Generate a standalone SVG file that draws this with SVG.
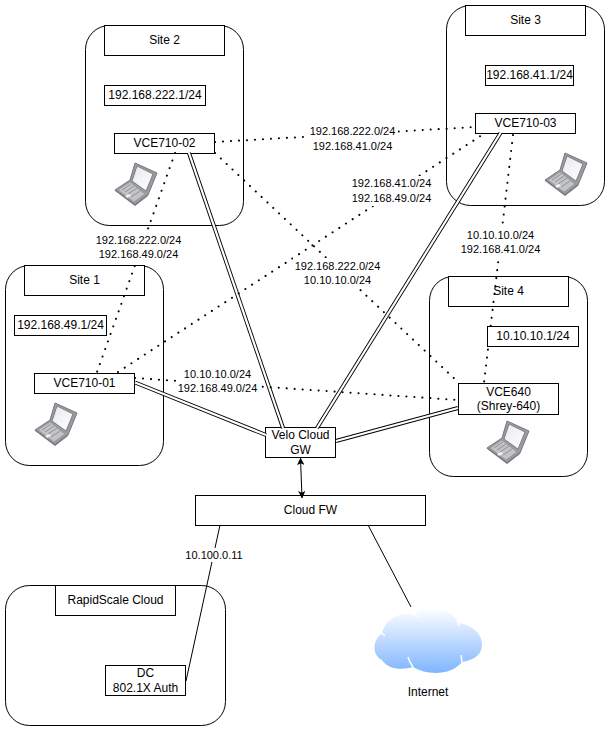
<svg xmlns="http://www.w3.org/2000/svg" width="610" height="731" viewBox="0 0 610 731">
<style>
text{font-family:"Liberation Sans",Arial,sans-serif;font-size:12px;fill:#000;text-anchor:middle}
.s{font-size:11px}
.b{fill:#fff;stroke:#000;stroke-width:1}
.o{fill:#fff;stroke:#000;stroke-width:1}
.d{fill:none;stroke:#000;stroke-width:2;stroke-dasharray:0.1 7.9;stroke-linecap:round}
.w1{fill:none;stroke:#000;stroke-width:4}
.w2{fill:none;stroke:#fff;stroke-width:2.2}
.l{fill:none;stroke:#000;stroke-width:1}
</style>
<defs>
<linearGradient id="cg" x1="0" y1="0" x2="0" y2="1"><stop offset="0" stop-color="#fff"/><stop offset="1" stop-color="#7fb5ff"/></linearGradient>
<linearGradient id="sc" x1="0" y1="0" x2="1" y2="1"><stop offset="0" stop-color="#e8e9ee"/><stop offset="1" stop-color="#fff"/></linearGradient>
<marker id="ah" viewBox="0 0 10 10" refX="9.500" refY="5" markerWidth="7.500" markerHeight="7.500" orient="auto-start-reverse" markerUnits="userSpaceOnUse"><path d="M0 0L10 5L0 10L2.500 5Z" fill="#000"/></marker>
<g id="lap">
<path d="M0 28L15 18L20 1L42 11L33 33L20 43Z" fill="#9a9ca1" stroke="#77787d" stroke-width="1"/>
<path d="M22 4L38 12L31 29L17 19Z" fill="url(#sc)" stroke="#6d6e73" stroke-width=".8"/>
<path d="M3 28L15 20L30 32L19 40Z" fill="#c2c4c8" stroke="#8a8b90" stroke-width=".6"/>
<path d="M7 28L16 22M10 30L19 24M13 32L22 26M16 35L25 29" stroke="#8f9095" stroke-width="1" fill="none"/>
<path d="M10 34L14 32L16 33.500L12 36Z" fill="#f2f2f2"/>
<path d="M0 28L20 43L33 33" fill="none" stroke="#7a7b80" stroke-width="1.500"/>
</g>
</defs>
<g id="site-containers">
<rect id="site2-box" class="o" x="85.500" y="25.500" width="158" height="200" rx="24"/>
<rect id="site3-box" class="o" x="446.500" y="5.500" width="158" height="200" rx="24"/>
<rect id="site1-box" class="o" x="5.500" y="265.500" width="158" height="200" rx="24"/>
<rect id="site4-box" class="o" x="429.500" y="276.500" width="158" height="200" rx="24"/>
<rect id="rapid-box" class="o" x="5.500" y="585.500" width="220" height="140" rx="24"/>
</g>
<g id="site2">
<rect class="b" x="104.500" y="25.500" width="120" height="30"/><text x="164.500" y="44">Site 2</text>
<rect class="b" x="104.500" y="85.500" width="101" height="20"/><text x="155" y="99">192.168.222.1/24</text>
<rect class="b" x="114.500" y="133.500" width="100" height="20"/><text x="164.500" y="147">VCE710-02</text>
<use href="#lap" x="115" y="162"/>
</g>
<g id="site3">
<rect class="b" x="465.500" y="5.500" width="120" height="30"/><text x="525.500" y="24">Site 3</text>
<rect class="b" x="485.500" y="65.500" width="88" height="20"/><text x="529.500" y="79">192.168.41.1/24</text>
<rect class="b" x="475.500" y="113.500" width="100" height="20"/><text x="525.500" y="127">VCE710-03</text>
<use href="#lap" x="545" y="152"/>
</g>
<g id="site1">
<rect class="b" x="24.500" y="265.500" width="120" height="30"/><text x="84.500" y="284">Site 1</text>
<rect class="b" x="14.500" y="315.500" width="92" height="20"/><text x="60.500" y="329">192.168.49.1/24</text>
<rect class="b" x="34.500" y="373.500" width="100" height="20"/><text x="84.500" y="387">VCE710-01</text>
<use href="#lap" x="35" y="402"/>
</g>
<g id="site4">
<rect class="b" x="448.500" y="276.500" width="120" height="30"/><text x="508.500" y="295">Site 4</text>
<rect class="b" x="458.500" y="383.500" width="100" height="31"/><text x="508.500" y="396">VCE640</text><text x="508.500" y="410">(Shrey-640)</text>
<use href="#lap" x="487" y="420"/>
</g>
<g id="velo-gw">
<rect class="b" x="265.500" y="427.500" width="70" height="30"/><text x="300.500" y="439">Velo Cloud</text><text x="300.500" y="454">GW</text>
</g>
<g id="cloud-fw">
<rect class="b" x="195.500" y="495.500" width="230" height="30"/><text x="310.500" y="514">Cloud FW</text>
</g>
<g id="rapidscale">
<rect class="b" x="55.500" y="585.500" width="120" height="30"/><text x="115.500" y="604">RapidScale Cloud</text>
</g>
<g id="dc">
<rect class="b" x="105.500" y="665.500" width="80" height="30"/><text x="145.500" y="677">DC</text><text x="145.500" y="692">802.1X Auth</text>
</g>
<g id="internet">
<path d="M382 633C385 619 400 611 415 615C423 605 447 604 459 623C472 625 483 634 482 646C481 656 473 660 462 662C452 675 428 676 413 667C403 670 388 670 382 660C372 655 372 641 382 633Z" fill="url(#cg)"/>
<path d="M415 615L418 617M457 619L459 626M382 633L385 636M408 657C409 661 411 664 413 667M462 662L461 655" fill="none" stroke="#fff" stroke-width="1.500"/>
<text x="428" y="696">Internet</text>
</g>
<g id="connectors">
<path class="w1" d="M135 382.500L266 435"/><path class="w2" d="M135 382.500L266 435"/>
<path class="w1" d="M189 153L283 428"/><path class="w2" d="M189 153L283 428"/>
<path class="w1" d="M500.500 133L317 428"/><path class="w2" d="M500.500 133L317 428"/>
<path class="w1" d="M458 408L336 441"/><path class="w2" d="M458 408L336 441"/>
<path class="d" d="M175 153L97 372"/>
<path class="d" d="M215 142L475 127"/>
<path class="d" d="M215 153L458 382"/>
<path class="d" d="M118 372L485 133"/>
<path class="d" d="M513 135L484 383"/>
<path class="d" d="M135 378L458 400"/>
<path class="l" d="M300.500 458L302 498" marker-start="url(#ah)" marker-end="url(#ah)"/>
<path class="l" d="M368 525L411 607"/>
<path class="l" d="M220 525L186 681"/>
</g>
<g id="site4-subnet">
<rect class="b" x="487.500" y="326.500" width="91" height="20"/><text x="533" y="340">10.10.10.1/24</text>
</g>
<g id="edge-labels">
<rect x="308" y="124" width="90" height="30" fill="#fff"/>
<text class="s" x="352.500" y="135">192.168.222.0/24</text><text class="s" x="352.500" y="150">192.168.41.0/24</text>
<rect x="350" y="176" width="84" height="30" fill="#fff"/>
<text class="s" x="391.500" y="187">192.168.41.0/24</text><text class="s" x="391.500" y="202">192.168.49.0/24</text>
<rect x="95" y="232" width="88" height="30" fill="#fff"/>
<text class="s" x="138.500" y="244">192.168.222.0/24</text><text class="s" x="138.500" y="258">192.168.49.0/24</text>
<rect x="293" y="258" width="90" height="30" fill="#fff"/>
<text class="s" x="337.500" y="270">192.168.222.0/24</text><text class="s" x="337.500" y="284">10.10.10.0/24</text>
<rect x="460" y="228" width="82" height="30" fill="#fff"/>
<text class="s" x="500.500" y="239">10.10.10.0/24</text><text class="s" x="500.500" y="253">192.168.41.0/24</text>
<rect x="179" y="366" width="78" height="30" fill="#fff"/>
<text class="s" x="217.500" y="378">10.10.10.0/24</text><text class="s" x="217.500" y="392">192.168.49.0/24</text>
<rect x="185" y="548" width="59" height="14" fill="#fff"/>
<text class="s" x="214" y="559">10.100.0.11</text>
</g>
</svg>
